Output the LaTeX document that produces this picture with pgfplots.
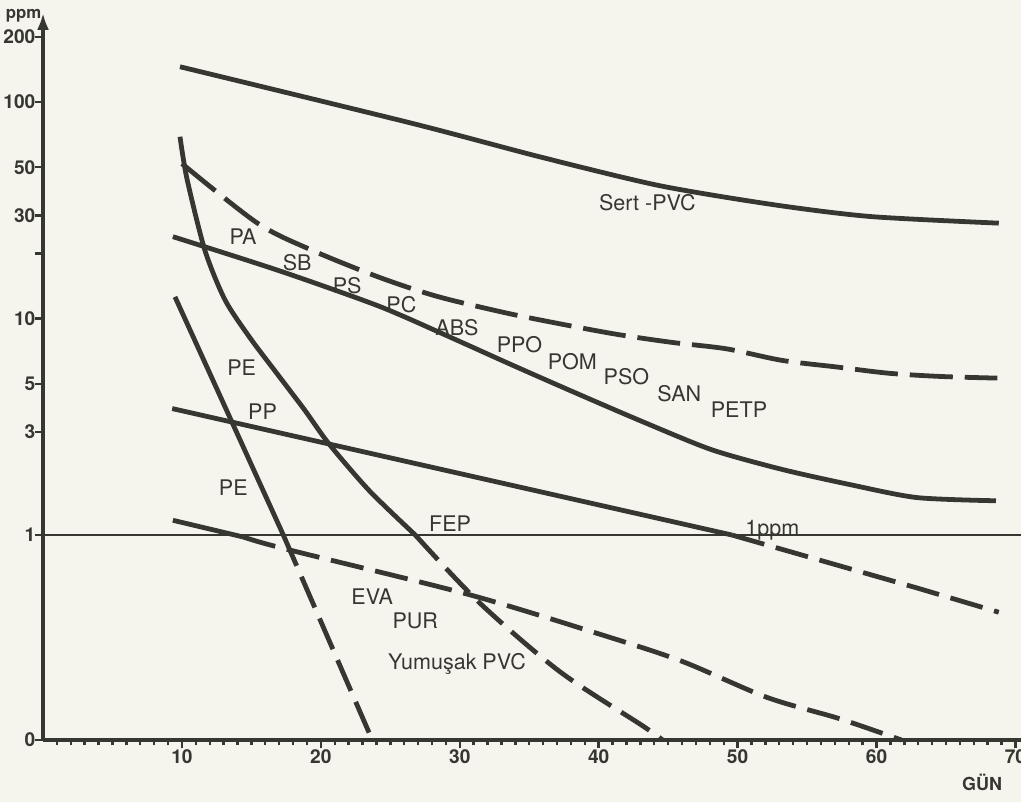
\documentclass[border=0pt]{standalone}
\usepackage{pgfplots}
\pgfplotsset{compat=1.18}
\usepackage{fontspec}
\setmainfont{TeX Gyre Heros}
\usetikzlibrary{arrows.meta}
\definecolor{ink}{RGB}{55,55,50}
\definecolor{paper}{RGB}{246,245,237}
\tikzset{
    lab/.style={font=\fontsize{9}{10}\selectfont, text=ink},
    solid curve/.style={ink, line width=2pt, smooth, tension=0.45, no marks},
    dash curve/.style={ink, line width=2pt, smooth, tension=0.5, no marks, dash pattern=on 14pt off 5pt},
}

\begin{document}
\begin{tikzpicture}[font=\fontsize{9}{10}\selectfont]
\fill[paper] (-0.632cm,-0.911cm) rectangle (14.368cm,10.872cm);
\begin{axis}[
    at={(0,0)}, anchor=south west,
    scale only axis, width=14.368cm, height=10.681cm,
    ymode=log,
    xmin=0, xmax=70.4, ymin=0.113, ymax=258,
    axis lines=left,
    axis line style={ink, line width=1.6pt},
    x axis line style={-},
    y axis line style={-{Latex[length=7pt,width=5pt]}},
    xtick={10,20,30,40,50,60,70},
    xticklabels={10,20,30,40,50,60,70},
    minor xtick={1,...,70},
    ytick={0.113,1,3,5,10,20,30,50,100,200},
    yticklabels={0,1,3,5,10,,30,50,100,200},
    minor ytick={},
    tick align=outside,
    major tick length=3.5pt, minor tick length=2.2pt,
    tick style={ink, line width=1pt},
    tick label style={font=\fontsize{8}{9}\selectfont\bfseries, text=ink},
    yticklabel style={inner xsep=0.5pt, xshift=1pt},
    xticklabel style={inner ysep=1pt, yshift=0.5pt},
    /pgf/number format/assume math mode=true,
    clip=false,
]
% 1 ppm reference line
\addplot[ink, line width=1.1pt, no marks] coordinates {(0,1) (70.4,1)};

% Sert-PVC
\addplot[solid curve] coordinates {
  (9.86,145.7) (26.5,80) (35.8,55.8) (44.4,41.1) (52.7,33.5) (59.6,29.6) (68.8,27.6)
};
% upper dashed (PA ... PETP upper bound)
\addplot[dash curve, dash pattern=on 18pt off 5pt] coordinates {
  (10.0,52) (15.4,27.7) (19.2,20.9) (24.1,15.6) (28.3,12.7) (33.1,10.7)
  (36.8,9.57) (41.2,8.48) (45.3,7.76) (49.2,7.25) (53.2,6.41) (57.1,5.98)
  (60.9,5.59) (64.7,5.40) (68.7,5.31)
};
% middle solid (PS ... PETP)
\addplot[solid curve] coordinates {
  (9.35,23.9) (17.05,16.6) (24.2,11.4) (29.1,8.32) (33.8,6.09) (38.6,4.46)
  (43.5,3.27) (48.2,2.47) (53.2,2.01) (58.1,1.71) (62.9,1.49) (68.6,1.44)
};
% steep curve (PE / FEP / PUR)
\addplot[solid curve] coordinates {
  (9.86,69.2) (10.36,44.3) (11.65,20.7) (13.1,12.2) (14.9,8.15)
  (16.9,5.51) (18.85,3.77) (20.6,2.63) (23.5,1.60) (26.8,1.0)
};
\addplot[dash curve] coordinates {
  (26.8,1.0) (31.4,0.488) (37.2,0.234) (43.2,0.131) (44.6,0.113)
};
% straight PE line
\addplot[ink, line width=2pt, no marks] coordinates {(9.5,12.6) (17.3,1.0)};
\addplot[ink, line width=2pt, no marks, dash pattern=on 14pt off 5pt] coordinates {(17.3,1.0) (23.7,0.113)};
% PP line
\addplot[ink, line width=2pt, no marks] coordinates {(9.3,3.84) (49.6,1.0)};
\addplot[ink, line width=2pt, no marks, dash pattern=on 14pt off 5pt] coordinates {
  (49.6,1.0) (62.9,0.57) (68.8,0.44)
};
% lower PE / EVA line
\addplot[ink, line width=2pt, no marks] coordinates {(9.35,1.17) (14.4,0.98)};
\addplot[dash curve] coordinates {
  (14.4,0.98) (15.8,0.92) (18.5,0.83) (30.7,0.53) (40.1,0.348)
  (46.0,0.261) (52.1,0.178) (57.3,0.142) (61.8,0.113)
};

% labels
\node[lab] at (axis cs:43.5,34.3) {Sert -PVC};
\node[lab] at (axis cs:14.4,23.8) {PA};
\node[lab] at (axis cs:18.3,18.2) {SB};
\node[lab] at (axis cs:21.9,14.2) {PS};
\node[lab] at (axis cs:25.8,11.6) {PC};
\node[lab] at (axis cs:29.8,9.07) {ABS};
\node[lab] at (axis cs:34.3,7.54) {PPO};
\node[lab] at (axis cs:38.1,6.34) {POM};
\node[lab] at (axis cs:42.0,5.37) {PSO};
\node[lab] at (axis cs:45.8,4.51) {SAN};
\node[lab] at (axis cs:50.1,3.79) {PETP};
\node[lab] at (axis cs:14.3,5.91) {PE};
\node[lab] at (axis cs:15.8,3.71) {PP};
\node[lab] at (axis cs:13.7,1.65) {PE};
\node[lab] at (axis cs:29.3,1.13) {FEP};
\node[lab] at (axis cs:23.7,0.52) {EVA};
\node[lab] at (axis cs:26.8,0.40) {PUR};
\node[lab] at (axis cs:29.8,0.2545) {Yumuşak PVC};
\node[lab, anchor=base] at (axis cs:52.5,1.0) {1ppm};
\node[lab, font=\fontsize{7}{8}\selectfont\bfseries, anchor=east, inner xsep=0.5pt] at (axis cs:0,252) {ppm};
\node[lab, font=\fontsize{7.5}{9}\selectfont\bfseries] at (axis cs:67.6,0.0723) {GÜN};
\end{axis}
\pgfresetboundingbox
\path (-0.632cm,-0.911cm) rectangle (14.368cm,10.872cm);
\end{tikzpicture}
\end{document}
